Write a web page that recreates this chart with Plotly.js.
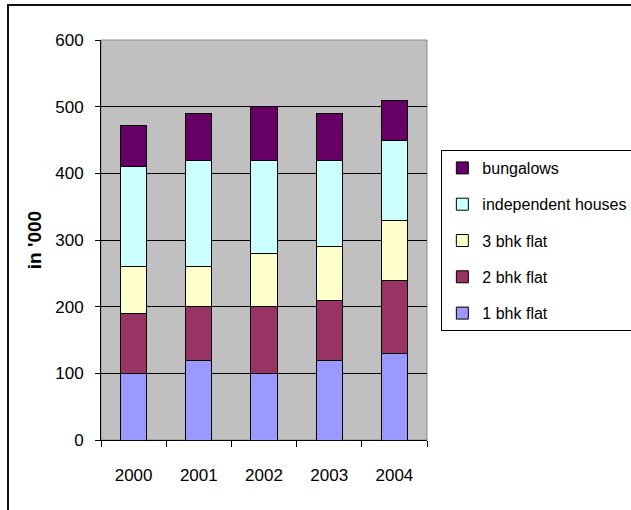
<!DOCTYPE html>
<html>
<head>
<meta charset="utf-8">
<script src="https://cdn.plot.ly/plotly-3.0.1.min.js"></script>
<style>
html,body{margin:0;padding:0;background:#fff;}
#chart{width:631px;height:510px;}
#frame{position:absolute;left:7px;top:4px;width:640px;height:520px;border-left:2px solid #111;border-top:2px solid #111;pointer-events:none;}
</style>
</head>
<body>
<div id="chart"></div>
<div id="frame"></div>
<script>
const years = ['2000', '2001', '2002', '2003', '2004'];
const seriesNames = ['1 bhk flat', '2 bhk flat', '3 bhk flat', 'independent houses', 'bungalows'];
const flat1 = [100, 120, 100, 120, 130];
const flat2 = [90, 80, 100, 90, 110];
const flat3 = [70, 60, 80, 80, 90];
const independent = [150, 160, 140, 130, 120];
const bungalows = [62, 70, 80, 70, 60];
const yTicks = [0, 100, 200, 300, 400, 500, 600];

const colors = ['#9999FF', '#993366', '#FFFFCC', '#CCFFFF', '#660066'];
const allValues = [flat1, flat2, flat3, independent, bungalows];

const traces = allValues.map((vals, i) => ({
  type: 'bar',
  name: seriesNames[i],
  x: years,
  y: vals,
  legendgroup: 'g' + i,
  legendrank: 1000 - i * 10,
  marker: {color: colors[i], line: {color: '#000', width: 1}},
  hoverinfo: 'x+y+name'
}));

const font = {family: 'Liberation Sans, Arial, sans-serif', size: 17, color: '#000'};

const layout = {
  width: 631, height: 510,
  margin: {l: 101, r: 204, t: 40, b: 70, autoexpand: false},
  paper_bgcolor: '#fff',
  plot_bgcolor: '#C0C0C0',
  barmode: 'stack',
  bargap: 0.6,
  font: font,
  showlegend: true,
  legend: {
    x: 1.044, xanchor: 'left', y: 0.725, yanchor: 'top',
    bordercolor: '#000', borderwidth: 1, bgcolor: '#fff',
    traceorder: 'grouped', tracegroupgap: 12.5,
    font: {family: 'Liberation Sans, Arial, sans-serif', size: 16, color: '#000'},
    itemwidth: 30
  },
  xaxis: {
    type: 'category',
    showline: true, linecolor: '#000', linewidth: 1,
    ticks: 'outside', tickson: 'boundaries', ticklen: 6, tickcolor: '#000',
    ticklabelstandoff: 20,
    showgrid: false, zeroline: false,
    tickfont: font
  },
  yaxis: {
    range: [0, 600],
    tickvals: yTicks,
    ticktext: yTicks.map(String),
    showline: true, linecolor: '#000', linewidth: 1,
    ticks: 'outside', ticklen: 5, tickcolor: '#000',
    ticklabelstandoff: 8,
    showgrid: true, gridcolor: '#000', gridwidth: 1,
    zeroline: false,
    tickfont: font,
    title: {text: "in '000", font: {family: 'Liberation Sans, Arial, sans-serif', size: 19, color: '#000', weight: 'bold'}, standoff: 8}
  },
  shapes: [{
    type: 'rect', xref: 'paper', yref: 'paper', x0: 0, x1: 1, y0: 0, y1: 1,
    line: {color: '#8a8a8a', width: 1}, layer: 'below'
  }]
};

Plotly.newPlot('chart', traces, layout, {displayModeBar: false, staticPlot: true});
</script>
</body>
</html>
